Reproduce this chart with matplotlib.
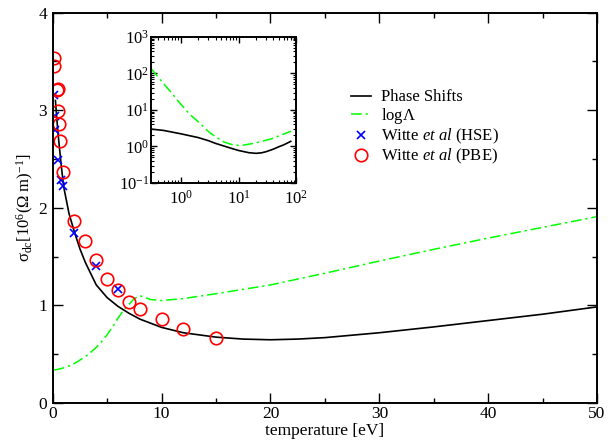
import numpy as np
import matplotlib
matplotlib.use('Agg')
import matplotlib.pyplot as plt
from matplotlib.ticker import MultipleLocator, LogLocator, NullFormatter
from matplotlib.lines import Line2D

### conductivity vs temperature, main panel plus log-log inset
plt.rcParams['font.family'] = ['Liberation Serif', 'DejaVu Serif']
plt.rcParams['mathtext.fontset'] = 'custom'
plt.rcParams['mathtext.rm'] = 'Liberation Serif'
plt.rcParams['mathtext.it'] = 'Liberation Serif:italic'
plt.rcParams['mathtext.bf'] = 'Liberation Serif:bold'

# main panel data
T_phase = [0.25, 0.35, 0.5, 0.75, 1, 1.5, 2, 2.5, 3, 4, 5, 6, 7, 8, 10, 12, 15, 17.5,
           20, 22.5, 25, 30, 35, 40, 45, 50]
sigma_phase = [3.1, 2.95, 2.75, 2.47, 2.22, 1.94, 1.75, 1.58, 1.44, 1.21, 1.08, 0.99, 0.92,
               0.86, 0.775, 0.72, 0.675, 0.655, 0.648, 0.655, 0.67, 0.72, 0.78, 0.845, 0.91, 0.985]
T_lambda = [0.1, 0.5, 1, 1.5, 2, 2.5, 3, 3.5, 4, 4.5, 5, 5.5, 6, 6.5, 7, 7.5, 8, 8.5, 9, 10,
            12, 15, 20, 25, 30, 35, 40, 45, 50]
sigma_lambda = [0.338, 0.345, 0.36, 0.38, 0.405, 0.44, 0.475, 0.52, 0.57, 0.63, 0.70, 0.78,
                0.87, 0.95, 1.01, 1.07, 1.10, 1.08, 1.06, 1.05, 1.07, 1.12, 1.21, 1.33, 1.455,
                1.575, 1.69, 1.80, 1.91]
T_hse = [0.12, 0.18, 0.24, 0.52, 0.74, 0.92, 2, 4, 6]
sigma_hse = [3.16, 2.94, 2.80, 2.49, 2.29, 2.22, 1.745, 1.40, 1.165]
T_pbe = [0.12, 0.12, 0.4, 0.45, 0.53, 0.62, 0.68, 0.93, 2, 3, 4, 5, 6, 7, 8, 10, 12, 15]
sigma_pbe = [3.54, 3.45, 3.21, 3.22, 2.99, 2.86, 2.69, 2.37, 1.87, 1.66, 1.47, 1.27, 1.16,
             1.035, 0.96, 0.865, 0.755, 0.67]

# inset data (log-log)
T_in_phase = [0.3, 0.5, 1, 2, 3, 4, 6, 8, 10, 15, 20, 25, 30, 40, 50, 60, 70, 80]
sigma_in_phase = [3.0, 2.75, 2.22, 1.75, 1.44, 1.21, 0.99, 0.86, 0.775, 0.675, 0.648, 0.67,
                  0.72, 0.845, 0.985, 1.10, 1.24, 1.38]
T_in_lambda = [0.3, 0.48, 0.72, 0.94, 1.4, 1.95, 3.1, 4.05, 5.65, 7.9, 11, 19, 37, 81]
sigma_in_lambda = [140, 57, 27, 16, 7.8, 4.9, 2.45, 1.8, 1.31, 1.11, 1.06, 1.23, 1.62, 2.62]

fig = plt.figure(figsize=(6.08, 4.43), dpi=100)
ax = fig.add_axes([0.0867, 0.0903, 0.8953, 0.8810])

dashdot = (0, (7, 2.5, 1.5, 2.5))
ax.plot(T_phase, sigma_phase, color='black', lw=1.2)
ax.plot(T_lambda, sigma_lambda, color='#00ff00', lw=1.1, linestyle=dashdot)
ax.plot(T_hse, sigma_hse, linestyle='none', marker='x', color='blue', ms=6, mew=1.2)
ax.plot(T_pbe, sigma_pbe, linestyle='none', marker='o', mfc='none', mec='red', ms=9, mew=1.2)

ax.set_xlim(0, 50)
ax.set_ylim(0, 4)
ax.xaxis.set_major_locator(MultipleLocator(10))
ax.xaxis.set_minor_locator(MultipleLocator(5))
ax.yaxis.set_major_locator(MultipleLocator(1))
ax.yaxis.set_minor_locator(MultipleLocator(0.5))
ax.tick_params(which='both', direction='in', top=True, right=True, labelsize=12.5, pad=2)
ax.tick_params(axis='y', pad=4)
ax.tick_params(which='major', length=7, width=1)
ax.tick_params(which='minor', length=3.5, width=1)
for s in ax.spines.values():
    s.set_linewidth(1.4)
ax.set_xlabel('temperature [eV]', fontsize=12.5, labelpad=1)
ax.set_ylabel(r'$\mathrm{\sigma}_{\mathrm{dc}}[10^6(\Omega\ \mathrm{m})^{-1}]$', fontsize=12, labelpad=2)

handles = [Line2D([], [], color='black', lw=1.2),
           Line2D([], [], color='#00ff00', lw=1.1, linestyle=dashdot),
           Line2D([], [], linestyle='none', marker='x', color='blue', ms=6, mew=1.2),
           Line2D([], [], linestyle='none', marker='o', mfc='none', mec='red', ms=9, mew=1.2)]
labels = ['Phase Shifts', r'log$\Lambda$', r'Witte $et\ al$ (HSE)', r'Witte $et\ al$ (PBE)']
fig.legend(handles, labels, loc='upper left', bbox_to_anchor=(0.578, 0.798), frameon=False,
           fontsize=12, handlelength=1.2, handletextpad=0.6, labelspacing=0.05,
           borderpad=0, borderaxespad=0)

# inset
axi = fig.add_axes([0.2479, 0.587, 0.2395, 0.3296])
axi.plot(T_in_phase, sigma_in_phase, color='black', lw=1.2)
axi.plot(T_in_lambda, sigma_in_lambda, color='#00ff00', lw=1.1, linestyle=dashdot)
axi.set_xscale('log')
axi.set_yscale('log')
axi.set_xlim(0.3, 100)
axi.set_ylim(0.1, 1000)
axi.xaxis.set_major_locator(LogLocator(base=10, numticks=10))
axi.yaxis.set_major_locator(LogLocator(base=10, numticks=10))
axi.xaxis.set_minor_locator(LogLocator(base=10, subs=np.arange(2, 10), numticks=20))
axi.yaxis.set_minor_locator(LogLocator(base=10, subs=np.arange(2, 10), numticks=20))
axi.xaxis.set_minor_formatter(NullFormatter())
axi.yaxis.set_minor_formatter(NullFormatter())
axi.tick_params(which='both', direction='in', top=True, right=True, labelsize=12)
axi.tick_params(axis='x', pad=5)
axi.tick_params(axis='y', pad=1)
axi.tick_params(which='major', length=4.5, width=1)
axi.tick_params(which='minor', length=2.5, width=0.8)
for s in axi.spines.values():
    s.set_linewidth(1.4)

plt.savefig('out.png', dpi=100)
